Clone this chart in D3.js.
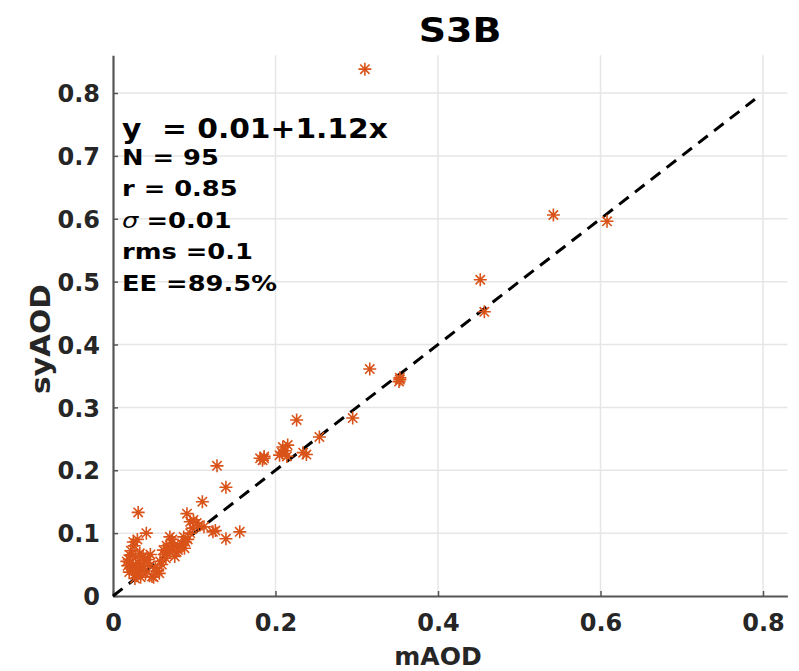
<!DOCTYPE html>
<html><head><meta charset="utf-8">
<script src="https://cdn.jsdelivr.net/npm/d3@7"></script>
<style>body{margin:0;background:#fff;} svg{display:block;}</style>
</head><body><div id="chart"></div>
<script>
const title = "S3B";
const xLabel = "mAOD";
const yLabel = "syAOD";
const xTicks = [0, 0.2, 0.4, 0.6, 0.8];
const yTicks = [0, 0.1, 0.2, 0.3, 0.4, 0.5, 0.6, 0.7, 0.8];
const mAOD = [0.310,0.542,0.608,0.452,0.457,0.316,0.353,0.352,0.295,0.226,0.254,0.234,0.238,0.209,0.212,0.205,0.214,0.181,0.186,0.184,0.128,0.139,0.110,0.031,0.091,0.095,0.103,0.099,0.123,0.126,0.139,0.156,0.041,0.025,0.070,0.072,0.089,0.087,0.062,0.076,0.058,0.017,0.023,0.029,0.027,0.048,0.039,0.033,0.021,0.080,0.025,0.030,0.020,0.035,0.028,0.022,0.040,0.045,0.050,0.055,0.060,0.065,0.068,0.075,0.078,0.082,0.085,0.092,0.095,0.098,0.030,0.026,0.018,0.024,0.032,0.037,0.043,0.052,0.057,0.063,0.070,0.073,0.066,0.088,0.020,0.027,0.034,0.038,0.046,0.105,0.112,0.215,0.208,0.353,0.186];
const syAOD = [0.838,0.606,0.596,0.503,0.452,0.361,0.347,0.341,0.283,0.280,0.253,0.228,0.225,0.237,0.231,0.224,0.222,0.219,0.219,0.216,0.207,0.173,0.150,0.133,0.131,0.118,0.116,0.121,0.102,0.104,0.091,0.102,0.100,0.086,0.094,0.084,0.086,0.094,0.073,0.063,0.055,0.055,0.047,0.039,0.028,0.031,0.057,0.068,0.065,0.073,0.050,0.045,0.058,0.040,0.062,0.072,0.035,0.048,0.030,0.040,0.050,0.060,0.075,0.080,0.070,0.078,0.082,0.090,0.100,0.108,0.090,0.080,0.048,0.042,0.052,0.063,0.058,0.045,0.036,0.066,0.070,0.090,0.080,0.076,0.038,0.034,0.030,0.047,0.066,0.112,0.110,0.240,0.228,0.344,0.222];
const refLine = [0, 0.79];
const statLines = ["N = 95", "r = 0.85", "=0.01", "rms =0.1", "EE =89.5%"];
const fitText = "y  = 0.01+1.12x";

const W = 799, H = 671;
const svg = d3.select("#chart").append("svg").attr("width", W).attr("height", H)
  .style("font-family", "'DejaVu Sans', sans-serif");
const x = d3.scaleLinear().domain([0, 0.83]).range([113, 787.4]);
const y = d3.scaleLinear().domain([0, 0.86]).range([596, 55.3]);

// grid
svg.append("g").selectAll("line").data(xTicks.slice(1)).join("line")
  .attr("x1", d => x(d)).attr("x2", d => x(d)).attr("y1", y(0)).attr("y2", y(0.86))
  .attr("stroke", "#e6e6e6").attr("stroke-width", 1.5);
svg.append("g").selectAll("line").data(yTicks.slice(1)).join("line")
  .attr("x1", x(0)).attr("x2", x(0.83)).attr("y1", d => y(d)).attr("y2", d => y(d))
  .attr("stroke", "#e6e6e6").attr("stroke-width", 1.5);

// axes
const fmt = d => d === 0 ? "0" : d3.format(".1f")(d);
const xAxis = d3.axisBottom(x).tickValues(xTicks).tickFormat(fmt).tickSizeInner(-5).tickSizeOuter(0).tickPadding(18);
const yAxis = d3.axisLeft(y).tickValues(yTicks).tickFormat(fmt).tickSizeInner(-5).tickSizeOuter(0).tickPadding(13);
const gx = svg.append("g").attr("transform", `translate(0,${y(0)})`).call(xAxis);
const gy = svg.append("g").attr("transform", `translate(${x(0)},0)`).call(yAxis);
[gx, gy].forEach(g => {
  g.select(".domain").attr("stroke", "#555").attr("stroke-width", 2.2);
  g.selectAll(".tick line").attr("stroke", "#555").attr("stroke-width", 1.5);
  g.selectAll(".tick text").attr("fill", "#262626").attr("font-size", 24).attr("font-weight", "bold")
   .attr("font-family", "'DejaVu Sans', sans-serif");
});
gx.selectAll(".tick text").attr("dy", "0.71em");
gy.selectAll(".tick text").attr("dy", "0.36em");

// reference line
svg.append("line").attr("x1", x(refLine[0])).attr("y1", y(refLine[0]))
  .attr("x2", x(refLine[1])).attr("y2", y(refLine[1]))
  .attr("stroke", "#000").attr("stroke-width", 3).attr("stroke-dasharray", "12,8");

// markers
const pts = mAOD.map((v, i) => [v, syAOD[i]]);
const r = 6.5, rd = r * 0.72;
const star = `M${-r},0L${r},0M0,${-r}L0,${r}M${-rd},${-rd}L${rd},${rd}M${-rd},${rd}L${rd},${-rd}`;
svg.append("g").selectAll("path").data(pts).join("path")
  .attr("transform", d => `translate(${x(d[0])},${y(d[1])})`)
  .attr("d", star).attr("fill", "none").attr("stroke", "#D95319").attr("stroke-width", 1.6);

// text
svg.append("text").attr("transform", "translate(460,42) scale(1.15,1)").attr("text-anchor", "middle")
  .attr("font-size", 33).attr("font-weight", "bold").attr("fill", "#000").text(title);
svg.append("text").attr("x", 438).attr("y", 665).attr("text-anchor", "middle")
  .attr("font-size", 25).attr("font-weight", "bold").attr("fill", "#262626").text(xLabel);
svg.append("text").attr("transform", "translate(50,339) rotate(-90) scale(1.1,1)").attr("text-anchor", "middle")
  .attr("font-size", 27).attr("font-weight", "bold").attr("fill", "#262626").text(yLabel);

svg.append("text").attr("transform", "translate(122,138) scale(1.1,1)").attr("font-size", 27).attr("font-weight", "bold").attr("fill", "#000")
  .attr("xml:space", "preserve").style("white-space", "pre").text(fitText);
const sy = [165, 196, 228, 259, 291];
statLines.forEach((t, i) => {
  const tx = svg.append("text").attr("transform", `translate(122,${sy[i]}) scale(1.17,1)`)
    .attr("font-size", 22).attr("font-weight", "bold").attr("fill", "#000");
  if (i === 2) {
    tx.append("tspan").attr("font-style", "italic").attr("font-weight", "normal").text("σ");
    tx.append("tspan").attr("dx", 7).text(t);
  } else tx.text(t);
});
</script></body></html>
